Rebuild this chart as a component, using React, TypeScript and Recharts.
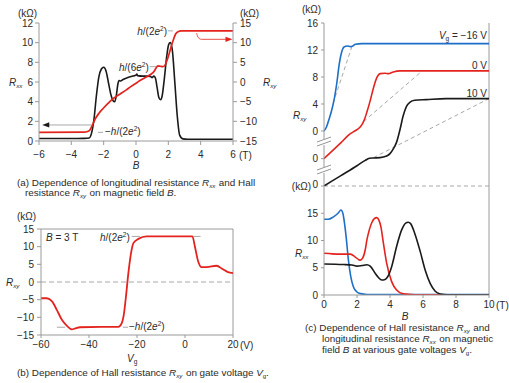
import React from 'react';
import { ComposedChart, Line, XAxis, YAxis, ReferenceLine, ReferenceDot } from 'recharts';

const FONT = '"Liberation Sans", Arial, Helvetica, sans-serif';
const RED = '#e3231e';
const BLUE = '#1e6fc8';
const BLACK = '#1a1a1a';
const GRAY = '#a8a8a8';
const AXIS = '#9a9a9a';
const TXT = '#2a2a2a';

// ---------- Panel (a) ----------
const aBTicks = [-6, -4, -2, 0, 2, 4, 6];
const aRxxTicks = [0, 2, 4, 6, 8, 10, 12];
const aRxyTicks = [-15, -10, -5, 0, 5, 10, 15];
const aRxxB = [-6, -4, -3.2, -2.9, -2.75, -2.6, -2.45, -2.3, -2.15, -2.0, -1.85, -1.7, -1.55, -1.42, -1.32, -1.22, -1.12, -1.05, -0.95, -0.8, -0.5, -0.2, 0, 0.05, 0.1, 0.4, 0.7, 0.9, 1.0, 1.1, 1.2, 1.3, 1.42, 1.52, 1.62, 1.75, 1.9, 2.02, 2.12, 2.25, 2.4, 2.55, 2.7, 2.9, 3.2, 6];
const aRxxVal = [0.25, 0.25, 0.27, 0.3, 0.8, 2.2, 4.6, 6.5, 7.3, 7.5, 7.1, 5.9, 4.7, 4.1, 4.0, 4.6, 5.8, 6.15, 6.1, 6.25, 6.45, 6.6, 6.7, 6.8, 6.65, 6.6, 6.6, 6.55, 6.45, 6.6, 6.4, 5.5, 4.4, 4.2, 4.6, 6.3, 8.6, 9.8, 10.0, 9.2, 6.0, 2.6, 0.6, 0.22, 0.18, 0.18];
const aRxyB = [-6, -3.2, -3.0, -2.85, -2.7, -2.55, -2.3, -2.05, -1.7, -1.4, -1.0, -0.6, -0.3, 0, 0.3, 0.6, 0.9, 1.1, 1.25, 1.35, 1.5, 1.65, 1.78, 1.9, 2.0, 2.15, 2.3, 2.45, 2.6, 2.8, 6];
const aRxyVal = [-12.8, -12.75, -12.6, -12.2, -11.0, -9.6, -8.0, -6.8, -5.3, -4.2, -3.1, -2.0, -1.1, -0.3, 0.5, 1.2, 1.9, 2.6, 3.6, 4.1, 4.0, 3.9, 4.2, 5.3, 6.5, 8.6, 10.6, 12.2, 12.8, 13.0, 13.0];
const aHalfPlateau = 13.0;
const aSixthPlateau = 3.9;
const aNegPlateau = -12.8;
const aLeftArrow = { from: -2.74, to: -5.45, tip: -5.55, level: 1.63 };
const aRightArrow = [{ x: 3.75, y: 12.4 }, { x: 3.85, y: 11.3 }, { x: 4.05, y: 10.85 }, { x: 5.6, y: 10.85 }];
const aRightTip = { x: 5.72, y: 10.85 };

// ---------- Panel (b) ----------
const bVgTicks = [-60, -40, -20, 0, 20];
const bRxyTicks = [-15, -10, -5, 0, 5, 10, 15];
const bVg = [-60, -57.5, -55.4, -53.4, -51.3, -49.2, -47.1, -45.7, -43.7, -35, -27.8, -26.4, -25.4, -24.6, -23.6, -22.6, -21.5, -19.4, -16, 0, 3.1, 4.1, 5.5, 6.9, 9, 13.1, 15.8, 17.9, 20];
const bRxy = [-4.6, -4.6, -5.5, -7.9, -10.7, -12.4, -13.4, -13.1, -12.8, -12.7, -12.7, -11.7, -8.8, -4.1, 2.5, 7.7, 11.0, 12.2, 12.9, 12.9, 12.9, 10.1, 5.8, 4.2, 4.2, 4.6, 3.6, 2.8, 2.5];
const bHi = 12.9;
const bLo = -12.8;
const bHiDashes = [[-22.2, -18.8], [3.5, 6.5]];
const bLoDashes = [[-53.4, -49.9], [-25.9, -23.7]];

// ---------- Panel (c) ----------
const cBTicks = [0, 2, 4, 6, 8, 10];
const cRxyTicks = [16, 12, 8, 4, 0];
const cRxxTicks = [0, 5, 10, 15];
const cOffsetRed = -4.1;
const cOffsetBlack = -8.15;
const cBlueB = [0, 0.15, 0.3, 0.47, 0.61, 0.77, 0.93, 1.07, 1.21, 1.42, 1.6, 1.75, 1.9, 2.3, 10];
const cBlueRxy = [0, 0.6, 1.7, 3.1, 4.6, 7.0, 10.0, 11.7, 12.45, 12.6, 12.5, 12.6, 12.85, 12.95, 12.95];
const cRedB = [0, 1.0, 1.6, 1.8, 2.0, 2.29, 2.45, 2.6, 2.8, 3.0, 3.2, 3.4, 3.7, 3.9, 4.2, 4.6, 10];
const cRedRxy = [0, 2.3, 3.7, 4.0, 4.3, 5.0, 5.8, 6.9, 8.6, 10.5, 12.0, 12.6, 12.65, 12.6, 12.85, 13.0, 13.0];
const cBlackB = [0, 1.0, 2.0, 2.5, 2.75, 3.0, 3.4, 3.75, 4.0, 4.2, 4.4, 4.6, 4.8, 5.0, 5.2, 5.5, 6.2, 7.4, 10];
const cBlackRxy = [0, 1.5, 3.0, 3.8, 4.1, 4.15, 4.2, 4.4, 4.8, 5.5, 6.5, 8.3, 10.4, 11.8, 12.4, 12.7, 12.8, 12.95, 12.95];
const cBlueRxxB = [0, 0.25, 0.55, 0.85, 1.03, 1.15, 1.25, 1.34, 1.48, 1.62, 1.78, 1.98, 2.2, 2.6, 10];
const cBlueRxx = [13.9, 13.9, 14.3, 15.0, 15.6, 14.9, 13.0, 10.7, 6.4, 3.4, 1.5, 0.6, 0.25, 0.1, 0.08];
const cRedRxxB = [0, 0.5, 1.0, 1.6, 1.88, 2.1, 2.2, 2.35, 2.5, 2.6, 2.75, 2.9, 3.05, 3.2, 3.32, 3.45, 3.6, 3.8, 4.1, 4.4, 4.8, 5.5, 8, 9, 10];
const cRedRxx = [7.65, 7.55, 7.5, 7.5, 7.0, 6.5, 6.4, 6.8, 8.3, 10.1, 12.0, 13.3, 14.0, 14.2, 13.8, 12.5, 9.5, 5.8, 2.45, 0.9, 0.2, 0.05, 0, -0.1, -0.1];
const cBlackRxxB = [0, 1.17, 1.7, 2.0, 2.3, 2.6, 2.8, 3.1, 3.3, 3.5, 3.7, 3.85, 4.1, 4.4, 4.7, 4.95, 5.1, 5.25, 5.5, 5.83, 6.13, 6.44, 6.74, 7.04, 7.5, 10];
const cBlackRxx = [5.7, 5.6, 5.5, 5.3, 5.4, 5.55, 5.3, 4.0, 3.2, 2.75, 2.85, 3.3, 5.2, 8.9, 11.9, 13.2, 13.35, 13.1, 11.3, 8.0, 4.6, 2.1, 0.7, 0.2, 0.05, 0.05];
const cGuideBlue = [{ x: 0.55, y: 4.1 }, { x: 1.75, y: 12.95 }];
const cGuideRed = [{ x: 2.4, y: 5.5 }, { x: 5.95, y: 13.0 }];
const cGuideBlack = [{ x: 3.0, y: 4.2 }, { x: 10, y: 12.95 }];

const zip = (xs: number[], ys: number[], off = 0) => xs.map((x, i) => ({ x, y: ys[i] + off }));
const shift = (pts: { x: number; y: number }[], off: number) => pts.map((p) => ({ x: p.x, y: p.y + off }));
const minus = (v: number) => (v < 0 ? '\u2212' + Math.abs(v) : String(v));

const tickStyle = { fontSize: 10, fill: TXT, fontFamily: FONT };

const arrowLeft = (color: string) => (p: any) => (
  <path d={`M${p.cx - 4},${p.cy} L${p.cx + 3},${p.cy - 2.6} L${p.cx + 3},${p.cy + 2.6} Z`} fill={color} />
);
const arrowRight = (color: string) => (p: any) => (
  <path d={`M${p.cx + 4},${p.cy} L${p.cx - 3},${p.cy - 2.6} L${p.cx - 3},${p.cy + 2.6} Z`} fill={color} />
);

function PanelA() {
  return (
    <ComposedChart width={270} height={160} margin={{ top: 23, right: 7, bottom: 0, left: 9 }}>
      <XAxis type="number" dataKey="x" domain={[-6, 6]} ticks={aBTicks} allowDataOverflow height={19}
        tick={tickStyle} tickFormatter={minus} stroke={AXIS} tickSize={4} tickMargin={6} />
      <YAxis yAxisId="l" type="number" domain={[0, 12]} ticks={aRxxTicks} allowDataOverflow width={30}
        tick={tickStyle} stroke={AXIS} tickSize={4} tickMargin={2} />
      <YAxis yAxisId="r" orientation="right" type="number" domain={[-15, 15]} ticks={aRxyTicks} allowDataOverflow width={30}
        tick={tickStyle} tickFormatter={minus} stroke={AXIS} tickSize={4} tickMargin={3} />
      <ReferenceLine yAxisId="r" segment={[{ x: 1.98, y: aHalfPlateau }, { x: 2.29, y: aHalfPlateau }]} stroke={GRAY} />
      <ReferenceLine yAxisId="r" segment={[{ x: 0.85, y: aSixthPlateau }, { x: 1.26, y: aSixthPlateau }]} stroke={GRAY} />
      <ReferenceLine yAxisId="r" segment={[{ x: -2.35, y: aNegPlateau }, { x: -2.04, y: aNegPlateau }]} stroke={GRAY} />
      <ReferenceLine yAxisId="l" segment={[{ x: aLeftArrow.from, y: aLeftArrow.level }, { x: aLeftArrow.to, y: aLeftArrow.level }]} stroke={GRAY} />
      <ReferenceDot yAxisId="l" x={aLeftArrow.tip} y={aLeftArrow.level} shape={arrowLeft(BLACK)} />
      <Line yAxisId="l" data={zip(aRxxB, aRxxVal)} dataKey="y" type="monotone" stroke={BLACK} strokeWidth={1.6} dot={false} isAnimationActive={false} />
      <Line yAxisId="r" data={zip(aRxyB, aRxyVal)} dataKey="y" type="monotone" stroke={RED} strokeWidth={1.7} dot={false} isAnimationActive={false} />
      <Line yAxisId="r" data={aRightArrow} dataKey="y" type="monotone" stroke={RED} strokeWidth={0.8} dot={false} isAnimationActive={false} />
      <ReferenceDot yAxisId="r" x={aRightTip.x} y={aRightTip.y} shape={arrowRight(RED)} />
    </ComposedChart>
  );
}

function PanelB() {
  return (
    <ComposedChart width={260} height={150} margin={{ top: 19, right: 27, bottom: 0, left: 9 }}>
      <XAxis type="number" dataKey="x" domain={[-60, 20]} ticks={bVgTicks} allowDataOverflow height={25}
        tick={tickStyle} tickFormatter={minus} stroke={AXIS} tickSize={3} tickMargin={3} />
      <YAxis type="number" domain={[-15, 15]} ticks={bRxyTicks} allowDataOverflow width={32}
        tick={tickStyle} tickFormatter={minus} stroke={AXIS} tickSize={4} tickMargin={3} />
      <ReferenceLine y={15} stroke={AXIS} />
      <ReferenceLine x={20} stroke={AXIS} />
      <ReferenceLine y={0} stroke={GRAY} strokeDasharray="5 3" />
      {bHiDashes.map((d, i) => (
        <ReferenceLine key={'h' + i} segment={[{ x: d[0], y: bHi }, { x: d[1], y: bHi }]} stroke={GRAY} />
      ))}
      {bLoDashes.map((d, i) => (
        <ReferenceLine key={'l' + i} segment={[{ x: d[0], y: bLo }, { x: d[1], y: bLo }]} stroke={GRAY} />
      ))}
      <Line data={zip(bVg, bRxy)} dataKey="y" type="monotone" stroke={RED} strokeWidth={1.8} dot={false} isAnimationActive={false} />
    </ComposedChart>
  );
}

function PanelCTop() {
  return (
    <ComposedChart width={249} height={190} margin={{ top: 23, right: 20, bottom: 4, left: 10 }}>
      <XAxis type="number" dataKey="x" domain={[0, 10]} allowDataOverflow hide height={0} />
      <YAxis type="number" domain={[cOffsetBlack, 16]} ticks={[...cRxyTicks, cOffsetRed, cOffsetBlack]} allowDataOverflow width={54}
        tick={tickStyle} tickFormatter={(v: number) => (v < 0 ? '0' : String(v))} stroke={AXIS} tickSize={3} tickMargin={3} />
      <ReferenceLine x={10} stroke={AXIS} />
      <ReferenceLine y={cOffsetBlack} stroke={GRAY} strokeDasharray="4 3" />
      <ReferenceLine segment={cGuideBlue} stroke={GRAY} strokeDasharray="4 3" />
      <ReferenceLine segment={shift(cGuideRed, cOffsetRed)} stroke={GRAY} strokeDasharray="4 3" />
      <ReferenceLine segment={shift(cGuideBlack, cOffsetBlack)} stroke={GRAY} strokeDasharray="4 3" />
      <Line data={zip(cBlueB, cBlueRxy)} dataKey="y" type="monotone" stroke={BLUE} strokeWidth={1.6} dot={false} isAnimationActive={false} />
      <Line data={zip(cRedB, cRedRxy, cOffsetRed)} dataKey="y" type="monotone" stroke={RED} strokeWidth={1.6} dot={false} isAnimationActive={false} />
      <Line data={zip(cBlackB, cBlackRxy, cOffsetBlack)} dataKey="y" type="monotone" stroke={BLACK} strokeWidth={1.6} dot={false} isAnimationActive={false} />
    </ComposedChart>
  );
}

function PanelCBottom() {
  return (
    <ComposedChart width={249} height={140} margin={{ top: 6, right: 20, bottom: 0, left: 10 }}>
      <XAxis type="number" dataKey="x" domain={[0, 10]} ticks={cBTicks} allowDataOverflow height={25}
        tick={tickStyle} stroke={AXIS} tickSize={3} tickMargin={3} />
      <YAxis type="number" domain={[0, 20]} ticks={cRxxTicks} allowDataOverflow width={54}
        tick={tickStyle} stroke={AXIS} tickSize={3} tickMargin={3} />
      <ReferenceLine x={10} stroke={AXIS} />
      <Line data={zip(cBlueRxxB, cBlueRxx)} dataKey="y" type="monotone" stroke={BLUE} strokeWidth={1.6} dot={false} isAnimationActive={false} />
      <Line data={zip(cRedRxxB, cRedRxx)} dataKey="y" type="monotone" stroke={RED} strokeWidth={1.6} dot={false} isAnimationActive={false} />
      <Line data={zip(cBlackRxxB, cBlackRxx)} dataKey="y" type="monotone" stroke={BLACK} strokeWidth={1.6} dot={false} isAnimationActive={false} />
    </ComposedChart>
  );
}

const R = ({ sub, size = 10 }: { sub: string; size?: number }) => (
  <>
    <tspan fontStyle="italic">R</tspan>
    <tspan fontStyle="italic" fontSize={size * 0.62} dy={2}>{sub}</tspan>
    <tspan dy={-2}>{'\u200A'}</tspan>
  </>
);

function Rsym({ x, y, sub, anchor = 'start' }: any) {
  return (
    <text x={x} y={y} textAnchor={anchor} fontFamily={FONT} fontSize={10} fill={TXT}>
      <R sub={sub} />
    </text>
  );
}

function HE({ x, y, n, neg = false, anchor = 'start' }: any) {
  return (
    <text x={x} y={y} textAnchor={anchor} fontFamily={FONT} fontSize={10} fill={TXT}>
      {neg ? '\u2212' : ''}
      <tspan fontStyle="italic">h</tspan>/({n}
      <tspan fontStyle="italic">e</tspan>
      <tspan fontSize={6.5} dy={-4}>2</tspan>
      <tspan dy={4}>)</tspan>
    </text>
  );
}

const CAP = 9.9;

function Overlay() {
  const t = (x: number, y: number, s: React.ReactNode, extra: any = {}) => (
    <text x={x} y={y} fontFamily={FONT} fontSize={10} fill={TXT} {...extra}>{s}</text>
  );
  return (
    <svg width={509} height={383} style={{ position: 'absolute', left: 0, top: 0, pointerEvents: 'none' }}>
      {/* Panel a */}
      {t(18, 16.5, '(k\u03A9)')}
      {t(240, 16.5, '(k\u03A9)')}
      <Rsym x={9} y={85.5} sub="xx" />
      <Rsym x={263} y={85.5} sub="xy" />
      {t(239, 158.5, '(T)')}
      {t(136, 168.5, 'B', { fontStyle: 'italic', textAnchor: 'middle' })}
      <HE x={167} y={34.5} n={2} anchor="end" />
      <HE x={119} y={70.5} n={6} />
      <HE x={105} y={134.5} n={2} neg />
      <text x={17} y={185.5} fontFamily={FONT} fontSize={CAP} fill={TXT}>
        (a) Dependence of longitudinal resistance <R sub="xx" size={CAP} />{' '}and Hall
      </text>
      <text x={25} y={196} fontFamily={FONT} fontSize={CAP} fill={TXT}>
        resistance <R sub="xy" size={CAP} />{' '}on magnetic field <tspan fontStyle="italic">B</tspan>.
      </text>

      {/* Panel b */}
      {t(17, 219.5, '(k\u03A9)')}
      <Rsym x={6} y={285.5} sub="xy" />
      <text x={46} y={240.5} fontFamily={FONT} fontSize={10} fill={TXT}>
        <tspan fontStyle="italic">B</tspan> = 3 T
      </text>
      <HE x={100} y={241} n={2} />
      <HE x={129} y={330} n={2} neg />
      {t(240, 348.5, '(V)')}
      <text x={127} y={361.5} fontFamily={FONT} fontSize={10} fill={TXT}>
        <tspan fontStyle="italic">V</tspan><tspan fontSize={6.5} dy={2}>g</tspan>
      </text>
      <text x={17} y={376} fontFamily={FONT} fontSize={CAP} fill={TXT}>
        (b) Dependence of Hall resistance <R sub="xy" size={CAP} />{'  '}on gate voltage <tspan fontStyle="italic">V</tspan><tspan fontSize={6} dy={2}>g</tspan><tspan dy={-2}>.</tspan>
      </text>

      {/* Panel c */}
      {t(302, 13, '(k\u03A9)')}
      <Rsym x={293} y={118.5} sub="xy" />
      {t(311, 189.5, '(k\u03A9)', { textAnchor: 'end' })}
      <text x={487} y={38.5} textAnchor="end" fontFamily={FONT} fontSize={10} fill={TXT}>
        <tspan fontStyle="italic">V</tspan><tspan fontSize={6.5} dy={2}>g</tspan><tspan dy={-2}> = {'\u2212'}16 V</tspan>
      </text>
      {t(487, 69, '0 V', { textAnchor: 'end' })}
      {t(487, 96.5, '10 V', { textAnchor: 'end' })}
      <Rsym x={295} y={256.5} sub="xx" />
      {t(405, 319.5, 'B', { fontStyle: 'italic', textAnchor: 'middle' })}
      {t(496, 308.5, '(T)')}
      <text x={305} y={330.5} fontFamily={FONT} fontSize={CAP} fill={TXT}>
        (c) Dependence of Hall resistance <R sub="xy" size={CAP} />{' '}and
      </text>
      <text x={322} y={341.5} fontFamily={FONT} fontSize={CAP} fill={TXT}>
        longitudinal resistance <R sub="xx" size={CAP} />{' '}on magnetic
      </text>
      <text x={322} y={352.5} fontFamily={FONT} fontSize={CAP} fill={TXT}>
        field <tspan fontStyle="italic">B</tspan> at various gate voltages <tspan fontStyle="italic">V</tspan><tspan fontSize={6} dy={2}>g</tspan><tspan dy={-2}>.</tspan>
      </text>

      {/* axis breaks */}
      {[142, 170].map((cy) => (
        <g key={cy}>
          <rect x={321} y={cy - 3} width={6} height={6} fill="#fff" />
          <line x1={317} y1={cy + 0} x2={331} y2={cy - 5} stroke="#888" strokeWidth={0.9} />
          <line x1={317} y1={cy + 4} x2={331} y2={cy - 1} stroke="#888" strokeWidth={0.9} />
        </g>
      ))}
    </svg>
  );
}

export default function App() {
  return (
    <div style={{ position: 'absolute', left: 0, top: 0, width: 509, height: 383, background: '#fff', overflow: 'hidden' }}>
      <div style={{ position: 'absolute', left: 0, top: 0 }}><PanelA /></div>
      <div style={{ position: 'absolute', left: 0, top: 210 }}><PanelB /></div>
      <div style={{ position: 'absolute', left: 260, top: 0 }}><PanelCTop /></div>
      <div style={{ position: 'absolute', left: 260, top: 180 }}><PanelCBottom /></div>
      <Overlay />
    </div>
  );
}
